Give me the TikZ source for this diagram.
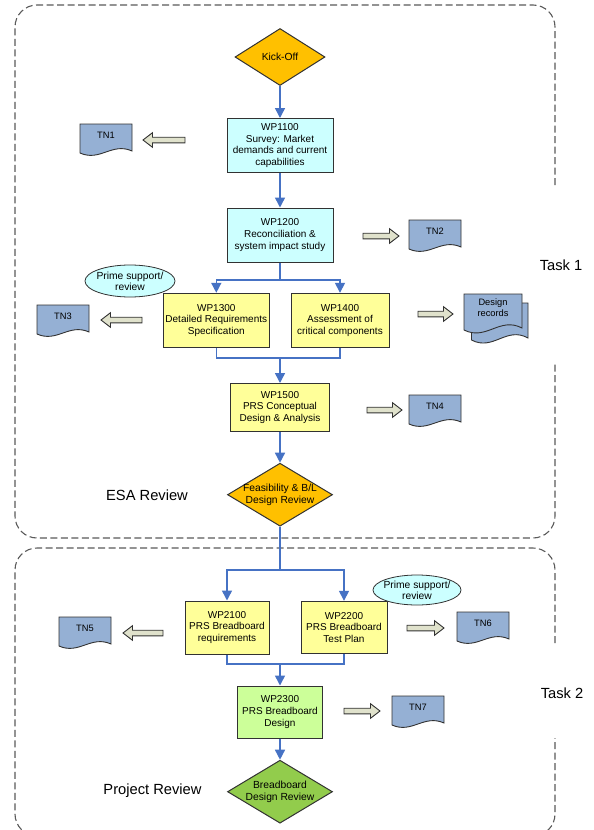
\documentclass[tikz,border=0pt]{standalone}
\usepackage{fontspec}
\setmainfont{Liberation Sans}
\usetikzlibrary{shapes.geometric,arrows.meta,calc}

\definecolor{conblue}{RGB}{70,114,196}
\definecolor{kickorange}{RGB}{255,192,0}
\definecolor{boxcyan}{RGB}{204,255,255}
\definecolor{boxyellow}{RGB}{255,255,153}
\definecolor{boxgreen}{RGB}{204,255,153}
\definecolor{diagreen}{RGB}{146,204,76}
\definecolor{docblue}{RGB}{149,176,212}
\definecolor{arrfill}{RGB}{224,226,204}
\definecolor{edgegrey}{RGB}{50,50,50}
\definecolor{dashgrey}{RGB}{90,90,90}

\tikzset{
  wpbox/.style={draw=edgegrey, line width=1pt, align=center, inner sep=0pt,
    font=\fontsize{10}{11.6}\selectfont},
  decision/.style={diamond, draw=edgegrey, line width=1pt, inner sep=0pt},
  dtext/.style={align=center, inner sep=0pt, font=\fontsize{10.3}{11.8}\selectfont},
  bubble/.style={ellipse, draw=edgegrey, line width=0.8pt, fill=boxcyan, inner sep=0pt},
  btext/.style={align=center, inner sep=0pt, font=\fontsize{10.3}{11.2}\selectfont},
  docshape/.style={draw=edgegrey, line width=0.9pt, fill=docblue},
  doctext/.style={align=center, inner sep=0pt, font=\fontsize{9.3}{11}\selectfont},
  blockarrow/.style={draw=edgegrey, line width=0.9pt, fill=arrfill},
  flow/.style={draw=conblue, line width=1.5pt},
  flowarr/.style={flow, -{Triangle[width=10pt,length=10pt]}},
  taskbox/.style={draw=dashgrey, line width=1.1pt, dash pattern=on 7pt off 3.5pt, rounded corners=22pt},
  biglabel/.style={inner sep=0pt, font=\fontsize{14.7}{16}\selectfont}
}

% doc outline: xleft, ytop, w, h
\newcommand{\docpath}[4]{%
  \draw[docshape] (#1,#2) -- (#1+#3,#2) -- (#1+#3,#2+#4-2)
    .. controls (#1+0.615*#3,#2+0.62*#4) and (#1+0.385*#3,#2+1.31*#4) .. (#1,#2+#4) -- cycle;}
% TN doc: name, xleft, ytop, text
\newcommand{\tndoc}[4]{%
  \docpath{#2}{#3}{52}{29}
  \node[doctext] (#1) at (#2+26,#3+11) {#4};}
% block arrow: name, tail x, tip x, y
\newcommand{\blockarr}[4]{%
  \pgfmathsetmacro{\hb}{#3-9.5*sign(#3-#2)}
  \draw[blockarrow] (#2,#4-2.8) -- (\hb,#4-2.8) -- (\hb,#4-7.3) -- (#3,#4)
    -- (\hb,#4+7.3) -- (\hb,#4+2.8) -- (#2,#4+2.8) -- cycle;
  \coordinate (#1) at (#3,#4);}

\begin{document}
\begin{tikzpicture}[x=1pt,y=-1pt]
\useasboundingbox (0,0) rectangle (594,830);
\fill[white] (0,0) rectangle (594,830);
\clip (0,0) rectangle (594,830);

% task frames
\draw[taskbox] (555,185) -- (555,5) -- (15,5) -- (15,538) -- (555,538) -- (555,363);
\draw[taskbox] (555,643) -- (555,548) -- (15,548) -- (15,836) -- (555,836) -- (555,738);
\node[biglabel] (task1) at (561,265) {Task 1};
\node[biglabel] (task2) at (562,693) {Task 2};
\node[biglabel] (esa) at (147,495) {ESA Review};
\node[biglabel] (proj) at (152.5,791) {Project Review};

% decisions
\node[decision, fill=kickorange, minimum width=90pt, minimum height=57pt] (kick) at (280,57) {};
\node[dtext] (kicktext) at (kick) {Kick-Off};
\node[decision, fill=kickorange, minimum width=105pt, minimum height=63pt] (feas) at (280,494.7) {};
\node[dtext] (feastext) at (feas) {Feasibility \& B/L\\Design Review};
\node[decision, fill=diagreen, minimum width=105pt, minimum height=63pt] (bb) at (280,791.7) {};
\node[dtext] (bbtext) at (bb) {Breadboard\\Design Review};

% work packages
\node[wpbox, fill=boxcyan, minimum width=106pt, minimum height=54pt] (wp1100) at (280,145.5)
  {WP1100\\Survey: Market\\demands and current\\capabilities};
\node[wpbox, fill=boxcyan, minimum width=106pt, minimum height=54pt] (wp1200) at (280,235)
  {WP1200\\Reconciliation \&\\system impact study};
\node[wpbox, fill=boxyellow, minimum width=106pt, minimum height=54pt] (wp1300) at (216.3,320.3)
  {WP1300\\Detailed Requirements\\Specification};
\node[wpbox, fill=boxyellow, minimum width=98pt, minimum height=54pt] (wp1400) at (340,320.3)
  {WP1400\\Assessment of\\critical components};
\node[wpbox, fill=boxyellow, minimum width=99pt, minimum height=48pt] (wp1500) at (280,407.5)
  {WP1500\\PRS Conceptual\\Design \& Analysis};
\node[wpbox, fill=boxyellow, minimum width=84pt, minimum height=53pt] (wp2100) at (227,627.5)
  {WP2100\\PRS Breadboard\\requirements};
\node[wpbox, fill=boxyellow, minimum width=86pt, minimum height=52pt] (wp2200) at (344,627.3)
  {WP2200\\PRS Breadboard\\Test Plan};
\node[wpbox, fill=boxgreen, minimum width=85pt, minimum height=52pt] (wp2300) at (280,712)
  {WP2300\\PRS Breadboard\\Design};

% prime support bubbles
\node[bubble, minimum width=90pt, minimum height=32pt] (ps1) at (130,281) {};
\node[btext] (ps1text) at (ps1) {Prime support/\\review};
\node[bubble, minimum width=88pt, minimum height=30pt] (ps2) at (417,590) {};
\node[btext] (ps2text) at (ps2) {Prime support/\\review};

% documents
\tndoc{tn1}{80}{124}{TN1}
\tndoc{tn2}{409}{220}{TN2}
\tndoc{tn3}{37}{305}{TN3}
\tndoc{tn4}{409}{395}{TN4}
\tndoc{tn5}{59}{617}{TN5}
\tndoc{tn6}{457}{612}{TN6}
\tndoc{tn7}{392}{696}{TN7}
\docpath{471.5}{303}{56.5}{37}
\docpath{464}{294}{58}{36}
\node[doctext] (design) at (493,307.2) {Design\\records};

% block arrows
\blockarr{ar1}{185}{143}{140}
\blockarr{ar2}{363}{399}{236}
\blockarr{ar3}{142}{101}{320}
\blockarr{ar4}{418}{453}{314}
\blockarr{ar5}{367}{402}{410}
\blockarr{ar6}{163}{123}{633}
\blockarr{ar7}{407}{444}{628}
\blockarr{ar8}{344}{380}{711}

% flow connectors
\coordinate (split1) at (280,280);
\coordinate (merge1) at (280,358);
\coordinate (split2) at (280,570);
\coordinate (merge2) at (280,664);
\draw[flowarr] (kick.south) -- (wp1100.north);
\draw[flowarr] (wp1100.south) -- (wp1200.north);
\draw[flow] (wp1200.south) -- (split1);
\draw[flowarr] (split1) -| (wp1300.north);
\draw[flowarr] (split1) -| (wp1400.north);
\draw[flow] (wp1300.south) |- (merge1);
\draw[flow] (wp1400.south) |- (merge1);
\draw[flowarr] (merge1) -- (wp1500.north);
\draw[flowarr] (wp1500.south) -- (feas.north);
\draw[flow] (feas.south) -- (split2);
\draw[flowarr] (split2) -| (wp2100.north);
\draw[flowarr] (split2) -| (wp2200.north);
\draw[flow] (wp2100.south) |- (merge2);
\draw[flow] (wp2200.south) |- (merge2);
\draw[flowarr] (merge2) -- (wp2300.north);
\draw[flowarr] (wp2300.south) -- (bb.north);
\end{tikzpicture}
\end{document}
